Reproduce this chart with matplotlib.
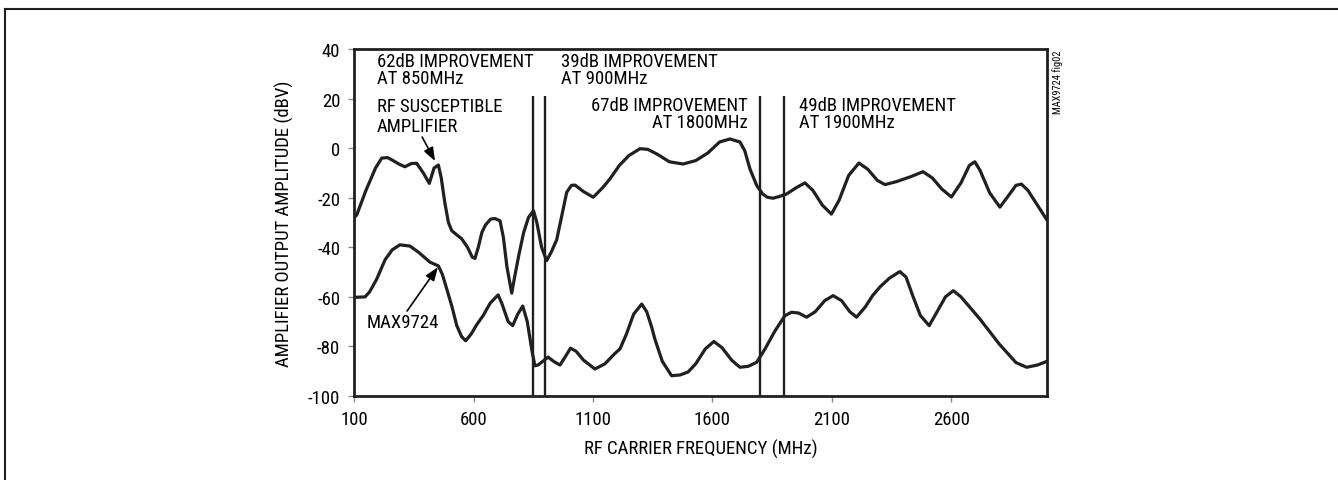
import numpy as np
import matplotlib
matplotlib.use("Agg")
import matplotlib.pyplot as plt
from matplotlib.lines import Line2D

plt.rcParams['font.family'] = ['Roboto Condensed', 'DejaVu Sans']

# RF susceptible amplifier (upper trace), MHz / dBV
susc_f = [100, 111, 150, 190, 216, 240, 258, 290, 313, 340, 362, 390, 415, 435, 453, 465, 480, 495,
          509, 530, 550, 575, 595, 606, 620, 635, 650, 672, 690, 711, 725, 740, 760, 772, 790, 810,
          830, 851, 865, 885, 906, 925, 948, 970, 990, 1010, 1025, 1060, 1101, 1140, 1171, 1210,
          1250, 1297, 1330, 1370, 1420, 1477, 1530, 1580, 1630, 1673, 1715, 1735, 1757, 1785, 1810,
          1830, 1853, 1880, 1910, 1950, 1987, 2020, 2060, 2098, 2130, 2170, 2213, 2250, 2290, 2322,
          2370, 2430, 2481, 2520, 2560, 2600, 2640, 2675, 2698, 2720, 2760, 2803, 2840, 2870, 2893,
          2920, 2960, 3000]
susc_db = [-28, -27, -17, -8, -4, -3.8, -4.7, -6.5, -7.5, -6.2, -6.1, -10, -14.2, -8, -6.8, -12, -22, -30,
           -33.3, -35, -36.5, -40, -44, -44.5, -40, -34, -31, -28.6, -28.4, -29.3, -36, -48, -58.5, -52, -43, -34,
           -28, -25.2, -30, -40, -45.4, -42, -37, -27, -17.8, -15, -14.9, -17.5, -19.8, -16, -12.4, -7,
           -3, -0.2, -0.5, -2.5, -5.5, -6.4, -5, -2, 2.5, 3.7, 2.5, -1, -8.4, -15, -18.5,
           -19.8, -20.2, -19.5, -18.5, -16, -14, -17, -23, -26.6, -21, -11, -6, -8.5, -13, -14.7,
           -13.5, -11.5, -9.5, -12, -16.5, -19.7, -14, -7, -5.5, -9, -18, -23.8, -19, -15, -14.5,
           -17, -23, -29]

# MAX9724 (lower trace)
max_f = [100, 146, 165, 195, 230, 260, 292, 334, 370, 418, 453, 470, 488, 510, 530, 550, 567, 590, 615,
         640, 670, 703, 720, 745, 764, 785, 806, 825, 845, 857, 870, 890, 912, 935, 962, 985, 1006,
         1030, 1060, 1108, 1150, 1190, 1213, 1240, 1270, 1304, 1325, 1345, 1359, 1390, 1429, 1465,
         1498, 1530, 1570, 1606, 1640, 1680, 1715, 1750, 1785, 1820, 1860, 1903, 1931, 1960, 1994,
         2030, 2070, 2105, 2140, 2175, 2203, 2240, 2270, 2301, 2340, 2384, 2410, 2440, 2470, 2507,
         2540, 2575, 2608, 2640, 2680, 2719, 2760, 2800, 2831, 2870, 2915, 2960, 3000]
max_db = [-60.2, -60, -58, -52.8, -45, -41, -39, -39.5, -42, -46, -47.5, -51, -56.8, -64, -71.6, -76, -77.7, -75, -71,
          -67.6, -62.5, -59.2, -63, -70, -71.6, -67, -63.7, -70, -82, -87.8, -87.5, -86, -84.3, -86, -87.5, -84, -80.7,
          -82, -85.5, -89.1, -87, -83, -81, -75, -67, -62.9, -66, -72, -77, -86, -91.8, -91.5,
          -90.3, -87, -81, -78, -80.5, -85.5, -88.4, -88, -86.4, -81, -74, -67.6, -66.2, -66.5, -68.2,
          -66, -61.5, -59.5, -61.5, -66, -68.2, -64, -59.5, -56, -52.5, -49.8, -52, -60, -67.5, -71.6,
          -66, -60, -57.5, -60, -64.5, -68.9, -74, -79, -82.3, -86.5, -88.4, -87.5, -86]

marker_f = [850, 900, 1800, 1900]
marker_top = 21

xticks = [100, 600, 1100, 1600, 2100, 2600]
yticks = [40, 20, 0, -20, -40, -60, -80, -100]

fig = plt.figure(figsize=(13.38, 4.81), dpi=100)
ax = fig.add_axes([0.2646, 0.1746, 0.7825 - 0.2646, 0.896 - 0.1746])

ink = '#231f20'
ax.plot(susc_f, susc_db, color=ink, lw=2.3, solid_joinstyle='round', solid_capstyle='round')
ax.plot(max_f, max_db, color=ink, lw=2.3, solid_joinstyle='round', solid_capstyle='round')
ax.vlines(marker_f, -100, marker_top, color=ink, lw=1.7)

ax.set_xlim(100, 3000)
ax.set_ylim(-100, 40)
ax.set_xticks(xticks)
ax.set_yticks(yticks)
ax.set_xticklabels([str(t) for t in xticks])
ax.set_yticklabels([str(t) for t in yticks])
ax.tick_params(direction='out', length=4, width=1, color='#888888', labelsize=13.5, pad=6)
for s in ax.spines.values():
    s.set_linewidth(2)
    s.set_color(ink)

ax.set_xlabel('RF CARRIER FREQUENCY (MHz)', fontsize=13.5, labelpad=8)
ax.set_ylabel('AMPLIFIER OUTPUT AMPLITUDE (dBV)', fontsize=13.5, labelpad=10)

fs = 13.5
ax.text(196, 38.8, '62dB IMPROVEMENT\nAT 850MHz', fontsize=fs, va='top', ha='left', linespacing=0.9)
ax.text(966, 38.8, '39dB IMPROVEMENT\nAT 900MHz', fontsize=fs, va='top', ha='left', linespacing=0.9)
ax.text(196, 20.5, 'RF SUSCEPTIBLE\nAMPLIFIER', fontsize=fs, va='top', ha='left', linespacing=1.1)
ax.text(1748, 21, '67dB IMPROVEMENT\nAT 1800MHz', fontsize=fs, va='top', ha='right', linespacing=0.9)
ax.text(1962, 21, '49dB IMPROVEMENT\nAT 1900MHz', fontsize=fs, va='top', ha='left', linespacing=0.9)

arrow = dict(arrowstyle='-|>,head_length=0.8,head_width=0.3', color='black', lw=1.2, shrinkA=0, shrinkB=0)
ax.annotate('', xy=(439, -5.2), xytext=(385, 4.5), arrowprops=arrow)
ax.annotate('MAX9724', xy=(451, -48), xytext=(154, -70), fontsize=fs, va='center', ha='left')
ax.annotate('', xy=(451, -48), xytext=(322, -65.7), arrowprops=arrow)

fig.text(1058 / 1338, 1 - 50 / 481, 'MAX9724 fig02', rotation=90, fontsize=7.5,
         ha='center', va='top')

# outer frame
fig.add_artist(Line2D([5 / 1338, 1], [1 - 10 / 481, 1 - 10 / 481], transform=fig.transFigure, color=ink, lw=1.5))
fig.add_artist(Line2D([5 / 1338, 5 / 1338], [0, 1 - 10 / 481], transform=fig.transFigure, color=ink, lw=1.5))

fig.savefig('out.png', dpi=100)
